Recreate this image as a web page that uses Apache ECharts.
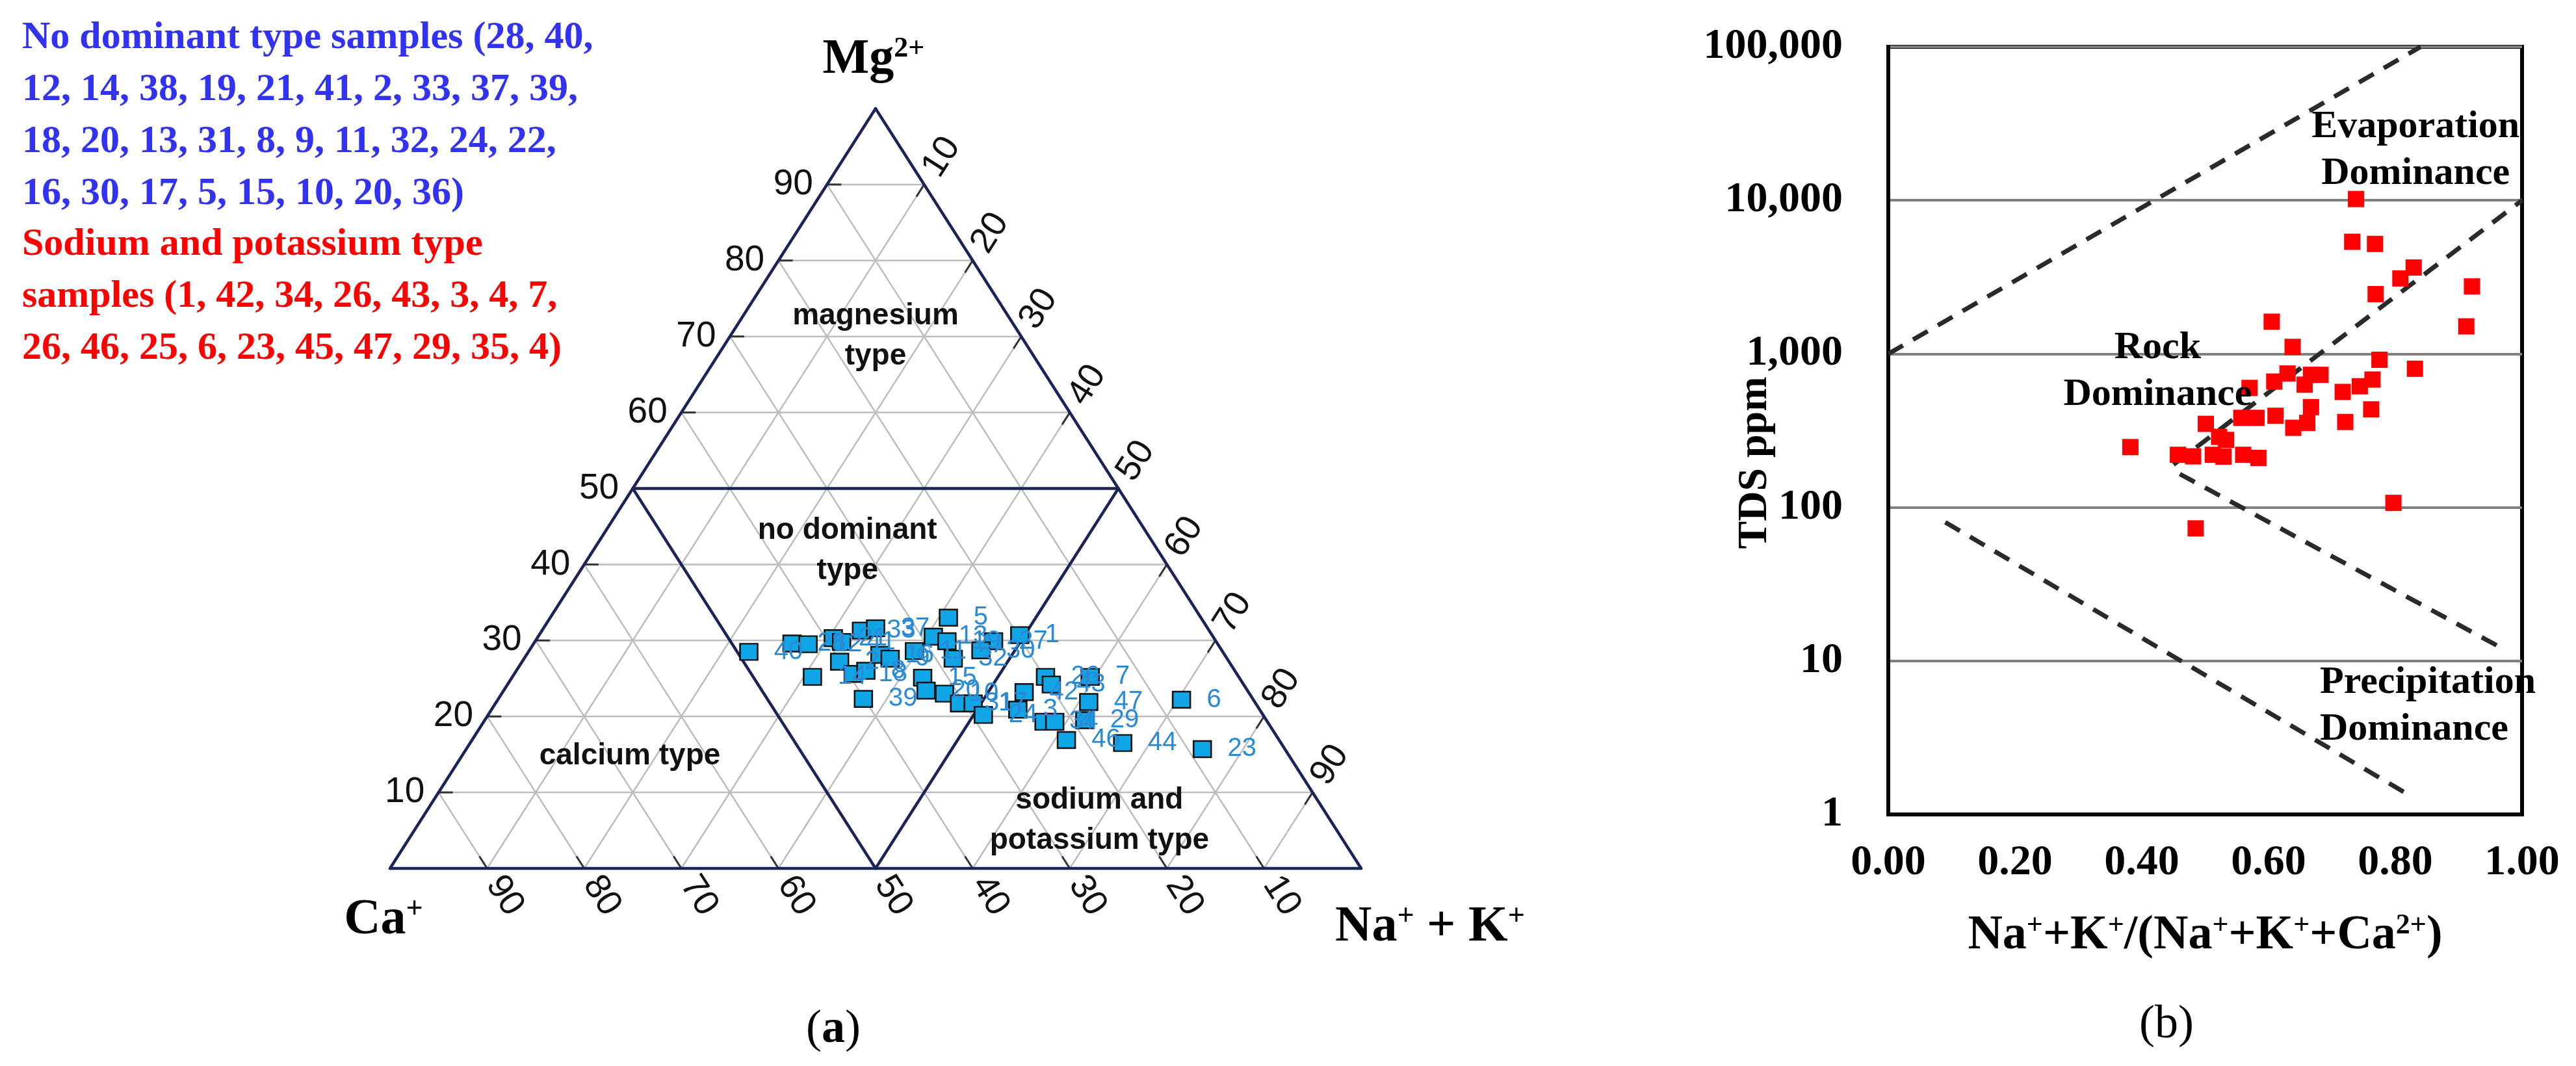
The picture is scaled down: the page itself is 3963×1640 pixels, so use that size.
<!DOCTYPE html>
<html><head><meta charset="utf-8">
<script src="https://cdn.jsdelivr.net/npm/echarts@6/dist/echarts.min.js"></script>
<style>html,body{margin:0;padding:0;background:#fff}#c{width:3963px;height:1640px}</style>
</head><body><div id="c"></div>
<script>
// ---------- (a) ternary diagram data (percent) ----------
const sampleIds = [40,28,12,14,21,41,2,33,37,18,8,39,16,9,11,15,20,13,5,10,19,32,31,17,24,27,30,1,42,3,34,26,43,4,46,7,47,29,44,6,23];
const mgPct   = [28.5,29.6,29.5,25.2,30.3,29.8,27.2,31.3,31.6,25.6,26.0,22.3,28.1,27.6,28.6,25.1,23.4,30.5,33.0,23.0,29.9,27.6,21.7,21.7,20.2,29.9,28.7,30.7,23.2,20.9,19.3,25.2,24.2,19.3,16.9,25.2,21.9,19.5,16.5,22.2,15.7];
const naKPct  = [22.7,26.6,28.3,30.9,30.5,31.6,32.7,32.9,34.2,34.9,36.0,37.6,36.4,37.7,39.7,42.3,43.5,40.7,41.0,45.6,42.4,44.2,47.8,49.2,51.0,47.2,46.5,49.5,53.7,54.2,57.7,54.9,56.0,58.8,61.2,59.5,61.0,61.8,67.2,70.4,75.8];
const caPct   = mgPct.map((m, i) => +(100 - m - naKPct[i]).toFixed(1));
const ternTicks = [10,20,30,40,50,60,70,80,90];
const regionSplit = 50;
const regionNames = ['magnesium\ntype', 'no dominant\ntype', 'calcium type', 'sodium and\npotassium type'];
// label anchors in ternary terms [Ca, Mg, Na+K]
const regionAnchors = [[15,70,15],[32,41.8,26.2],[67.9,14.8,17.3],[23.8,6.3,69.9]];

// ---------- (b) Gibbs diagram data ----------
const gibbsRatio = [0.738,0.732,0.768,0.829,0.808,0.921,0.769,0.912,0.605,0.638,0.775,0.831,0.630,0.667,0.682,0.609,0.657,0.570,0.764,0.744,0.717,0.667,0.762,0.611,0.639,0.661,0.721,0.557,0.581,0.501,0.382,0.457,0.481,0.512,0.533,0.529,0.560,0.584,0.522,0.485,0.797];
const gibbsTDS   = [10200,5370,5200,3650,3100,2750,2450,1510,1620,1110,915,800,745,730,730,660,630,600,680,615,565,450,435,395,330,355,360,383,383,350,247,220,215,220,275,214,220,210,288,73,107];
const xTickLabels = ['0.00','0.20','0.40','0.60','0.80','1.00'];
const yTickLabels = ['1','10','100','1,000','10,000','100,000'];
const evapBoundary   = [[0, 1000], [0.84, 100000]];
const rockUpper      = [[0.45, 190], [1.0, 10000]];
const rockLower      = [[0.46, 165], [0.97, 12]];
const precipBoundary = [[0.09, 80], [0.82, 1.35]];
const gibbsNotes = ['Evaporation\nDominance', 'Rock\nDominance', 'Precipitation\nDominance'];
const gibbsNoteAnchors = [[0.832, 21200], [0.425, 769], [0.681, 5.05]];

// ---------- helpers ----------
function T(ca, mg, na) { return [na + mg / 2, mg]; }
const SANS = "'Liberation Sans', Arial, sans-serif";
const SERIF = "'Liberation Serif', 'Times New Roman', serif";

const gridSegs = [];
ternTicks.forEach(v => {
  gridSegs.push([...T(100 - v, v, 0), ...T(0, v, 100 - v)]);
  gridSegs.push([...T(v, 0, 100 - v), ...T(v, 100 - v, 0)]);
  gridSegs.push([...T(100 - v, 0, v), ...T(0, 100 - v, v)]);
});
const s = regionSplit;
const borderSegs = [
  [...T(100, 0, 0), ...T(0, 0, 100)],
  [...T(0, 0, 100), ...T(0, 100, 0)],
  [...T(0, 100, 0), ...T(100, 0, 0)],
  [...T(100 - s, s, 0), ...T(0, s, 100 - s)],
  [...T(100 - s, s, 0), ...T(100 - s, 0, s)],
  [...T(0, s, 100 - s), ...T(100 - s, 0, s)]
];
const axisItems = [];
ternTicks.forEach(v => {
  axisItems.push([...T(100 - v, v, 0), ...T(0, v, 100 - v), 0, v]);
  axisItems.push([...T(0, 100 - v, v), ...T(100 - v, 0, v), 1, v]);
  axisItems.push([...T(v, 0, 100 - v), ...T(v, 100 - v, 0), 2, v]);
});

function segRender(color, width) {
  return function (params, api) {
    const a = api.coord([api.value(0), api.value(1)]);
    const b = api.coord([api.value(2), api.value(3)]);
    return { type: 'line', shape: { x1: a[0], y1: a[1], x2: b[0], y2: b[1] },
      style: { stroke: color, lineWidth: width, lineCap: 'round' } };
  };
}

const chart = echarts.init(document.getElementById('c'), null, { width: 3963, height: 1640 });
chart.setOption({
  animation: false,
  backgroundColor: '#fff',
  grid: [
    { left: 600, top: 167, width: 1494, height: 1169, outerBoundsMode: 'none' },
    { left: 2905, top: 72, width: 975, height: 1181, outerBoundsMode: 'none', show: true, borderColor: '#000', borderWidth: 6 }
  ],
  xAxis: [
    { gridIndex: 0, type: 'value', min: 0, max: 100, show: false },
    { gridIndex: 1, type: 'value', min: 0, max: 1, interval: 0.2,
      axisLine: { lineStyle: { color: '#000', width: 6 } }, axisTick: { show: false }, splitLine: { show: false },
      axisLabel: { margin: 42, color: '#000', fontFamily: SERIF, fontWeight: 'bold', fontSize: 66,
        formatter: v => xTickLabels[Math.round(v / 0.2)] },
      name: '{n|Na}{s|+}{n|+K}{s|+}{n|/(Na}{s|+}{n|+K}{s|+}{n|+Ca}{s|2+}{n|)}', nameLocation: 'middle', nameGap: 150,
      nameTextStyle: { color: '#000', rich: {
        n: { fontFamily: SERIF, fontWeight: 'bold', fontSize: 74, color: '#000' },
        s: { fontFamily: SERIF, fontWeight: 'bold', fontSize: 44, color: '#000', verticalAlign: 'top' } } } }
  ],
  yAxis: [
    { gridIndex: 0, type: 'value', min: 0, max: 100, show: false },
    { gridIndex: 1, type: 'log', logBase: 10, min: 1, max: 100000,
      axisLine: { show: true, lineStyle: { color: '#000', width: 6 } }, axisTick: { show: false },
      splitLine: { show: true, lineStyle: { color: '#808080', width: 4 } },
      axisLabel: { margin: 70, color: '#000', fontFamily: SERIF, fontWeight: 'bold', fontSize: 66,
        formatter: v => yTickLabels[Math.round(Math.log10(v))] } }
  ],
  series: [
    { type: 'custom', xAxisIndex: 0, yAxisIndex: 0, clip: false, silent: true, z: 1,
      data: gridSegs, renderItem: segRender('#bdbdbd', 2.5) },
    { type: 'custom', xAxisIndex: 0, yAxisIndex: 0, clip: false, silent: true, z: 2,
      data: axisItems,
      renderItem: function (params, api) {
        const a = api.coord([api.value(0), api.value(1)]);
        const b = api.coord([api.value(2), api.value(3)]);
        const kind = api.value(4), v = api.value(5);
        const dx = b[0] - a[0], dy = b[1] - a[1], L = Math.hypot(dx, dy);
        const ux = dx / L, uy = dy / L;
        const rot = kind === 0 ? 0 : Math.atan2(uy, -ux);
        const gap = kind === 0 ? 52 : 50;
        return { type: 'group', children: [
          { type: 'line', shape: { x1: a[0], y1: a[1], x2: a[0] + ux * 22, y2: a[1] + uy * 22 },
            style: { stroke: '#333', lineWidth: 3 } },
          { type: 'text', x: a[0] - ux * gap, y: a[1] - uy * gap, rotation: rot,
            style: { text: String(v), fontSize: 55, fontFamily: SANS, fill: '#111',
              align: 'center', verticalAlign: 'middle', textAlign: 'center', textVerticalAlign: 'middle' } }
        ] };
      } },
    { type: 'custom', xAxisIndex: 0, yAxisIndex: 0, clip: false, silent: true, z: 3,
      data: borderSegs, renderItem: segRender('#1b2459', 4.5) },
    { type: 'custom', xAxisIndex: 0, yAxisIndex: 0, clip: false, silent: true, z: 3,
      data: regionAnchors.map((r, i) => [...T(r[0], r[1], r[2]), i]),
      renderItem: function (params, api) {
        const p = api.coord([api.value(0), api.value(1)]);
        return { type: 'text', x: p[0], y: p[1],
          style: { text: regionNames[api.value(2)], fontSize: 46, fontWeight: 'bold', fontFamily: SANS, fill: '#111',
            lineHeight: 62, align: 'center', verticalAlign: 'middle', textAlign: 'center', textVerticalAlign: 'middle' } };
      } },
    { type: 'scatter', xAxisIndex: 0, yAxisIndex: 0, z: 5, symbol: 'rect', symbolSize: [27, 25],
      itemStyle: { color: '#10a6e6', borderColor: '#111', borderWidth: 2.5, opacity: 1 },
      label: { show: true, position: 'right', distance: 24, formatter: p => p.name, color: '#2b8ad6',
        fontSize: 40, fontFamily: SANS },
      data: sampleIds.map((id, i) => ({ name: String(id), value: T(caPct[i], mgPct[i], naKPct[i]) })) },

    // ---- Gibbs ----
    ...[evapBoundary, rockUpper, rockLower, precipBoundary].map(d => ({
      type: 'line', xAxisIndex: 1, yAxisIndex: 1, data: d, symbol: 'none', silent: true, z: 3,
      lineStyle: { color: '#2a2a2a', width: 7, type: [26, 18] } })),
    { type: 'scatter', xAxisIndex: 1, yAxisIndex: 1, symbol: 'rect', symbolSize: 25, z: 5,
      itemStyle: { color: '#ff0000', opacity: 1 },
      data: gibbsRatio.map((r, i) => [r, gibbsTDS[i]]) },
    { type: 'custom', xAxisIndex: 1, yAxisIndex: 1, clip: false, silent: true, z: 6,
      data: gibbsNoteAnchors.map((a, i) => [a[0], a[1], i]),
      renderItem: function (params, api) {
        const p = api.coord([api.value(0), api.value(1)]);
        const i = api.value(2);
        const al = i === 2 ? 'left' : 'center';
        return { type: 'text', x: p[0], y: p[1],
          style: { text: gibbsNotes[i], fontSize: 60, fontWeight: 'bold', fontFamily: SERIF, fill: '#000',
            lineHeight: 72, align: al, textAlign: al, verticalAlign: 'middle', textVerticalAlign: 'middle' } };
      } }
  ],
  graphic: [
    { type: 'text', left: 34, top: 18, style: { text: 'No dominant type samples (28, 40,\n12, 14, 38, 19, 21, 41, 2, 33, 37, 39,\n18, 20, 13, 31, 8, 9, 11, 32, 24, 22,\n16, 30, 17, 5, 15, 10, 20, 36)',
      font: 'bold 60px ' + SERIF, fill: '#3232f2', lineHeight: 80 } },
    { type: 'text', left: 34, top: 336, style: { text: 'Sodium and potassium type\nsamples (1, 42, 34, 26, 43, 3, 4, 7,\n26, 46, 25, 6, 23, 45, 47, 29, 35, 4)',
      font: 'bold 60px ' + SERIF, fill: '#ff0000', lineHeight: 80 } },
    { type: 'text', x: 2700, y: 712, rotation: Math.PI / 2, style: { text: 'TDS ppm', align: 'center', verticalAlign: 'middle',
      font: 'bold 64px ' + SERIF, fill: '#000' } },
    { type: 'text', x: 1344, y: 92, style: { text: '{m|Mg}{s|2+}', align: 'center', verticalAlign: 'middle',
      rich: { m: { fontFamily: SERIF, fontWeight: 'bold', fontSize: 76, fill: '#000' }, s: { fontFamily: SERIF, fontWeight: 'bold', fontSize: 44, verticalAlign: 'top', fill: '#000' } } } },
    { type: 'text', x: 590, y: 1416, style: { text: '{m|Ca}{s|+}', align: 'center', verticalAlign: 'middle',
      rich: { m: { fontFamily: SERIF, fontWeight: 'bold', fontSize: 78, fill: '#000' }, s: { fontFamily: SERIF, fontWeight: 'bold', fontSize: 46, verticalAlign: 'top', fill: '#000' } } } },
    { type: 'text', x: 2200, y: 1427, style: { text: '{m|Na}{s|+}{m| + K}{s|+}', align: 'center', verticalAlign: 'middle',
      rich: { m: { fontFamily: SERIF, fontWeight: 'bold', fontSize: 78, fill: '#000' }, s: { fontFamily: SERIF, fontWeight: 'bold', fontSize: 46, verticalAlign: 'top', fill: '#000' } } } },
    { type: 'text', x: 1282, y: 1584, style: { text: '{r|(}{b|a}{r|)}', align: 'center', verticalAlign: 'middle',
      rich: { r: { fontFamily: SERIF, fontSize: 72, fill: '#000' }, b: { fontFamily: SERIF, fontWeight: 'bold', fontSize: 72, fill: '#000' } } } },
    { type: 'text', x: 3333, y: 1577, style: { text: '{r|(b)}', align: 'center', verticalAlign: 'middle',
      rich: { r: { fontFamily: SERIF, fontSize: 72, fill: '#000' } } } }
  ]
});
</script></body></html>
